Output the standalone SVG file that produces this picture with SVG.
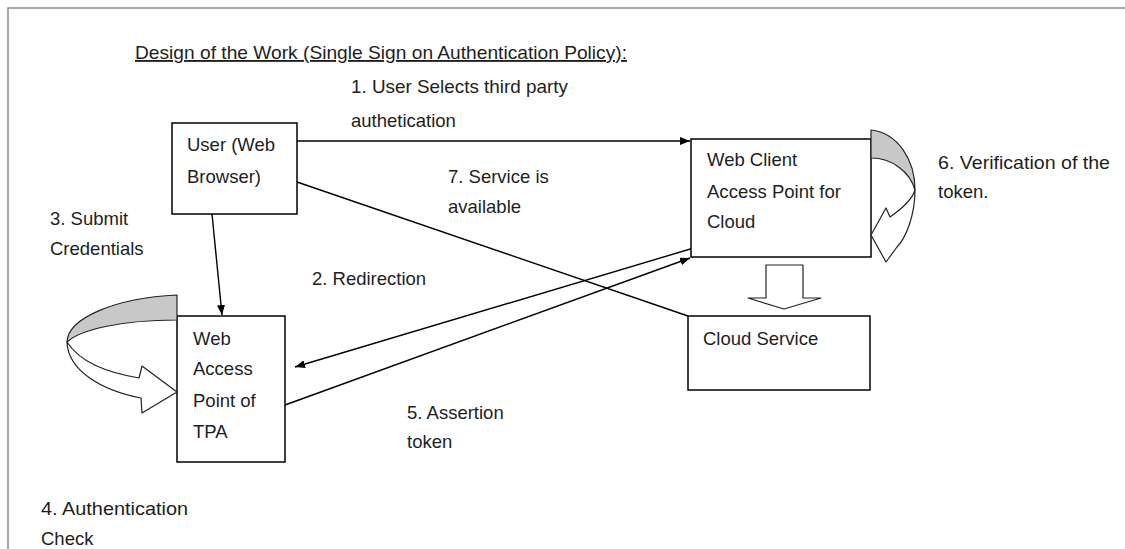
<svg xmlns="http://www.w3.org/2000/svg" width="1125" height="549" viewBox="0 0 1125 549">
<style>
text{font-family:"Liberation Sans",Arial,sans-serif;font-size:18.5px;fill:#1e1e1e}
.box{fill:#fff;stroke:#000;stroke-width:1.5}
.ln{fill:none;stroke:#000;stroke-width:1.4}
.blk{fill:#fff;stroke:#222;stroke-width:1.2;stroke-linejoin:round}
.grey{fill:#c8c8c8;stroke:#222;stroke-width:1.2;stroke-linejoin:round}
</style>
<defs>
<marker id="ah" viewBox="0 0 10 8" refX="10" refY="4" markerWidth="10" markerHeight="8" markerUnits="userSpaceOnUse" orient="auto">
<path d="M0,0 L10,4 L0,8 Z" fill="#000"/>
</marker>
</defs>
<rect width="1125" height="549" fill="#fff"/>
<path d="M8,549 L8,8 L1125,8" fill="none" stroke="#8a8a8a" stroke-width="1.5"/>
<text x="135" y="59" textLength="492" lengthAdjust="spacingAndGlyphs" text-decoration="underline">Design of the Work (Single Sign on Authentication Policy):</text>
<g id="connectors">
<line class="ln" x1="297" y1="141" x2="690" y2="141" marker-end="url(#ah)"/>
<line class="ln" x1="212" y1="214" x2="222" y2="315" marker-end="url(#ah)"/>
<line class="ln" x1="697" y1="247" x2="295" y2="367" marker-end="url(#ah)"/>
<line class="ln" x1="285" y1="405" x2="690" y2="258" marker-end="url(#ah)"/>
<line class="ln" x1="297" y1="182" x2="688" y2="316"/>
<path class="blk" d="M766,265 L803,265 L803,298 L821,298 L784,309 L748,298 L766,298 Z"/>
</g>
<g id="labels">
<text x="351" y="93" textLength="217" lengthAdjust="spacingAndGlyphs">1. User Selects third party</text>
<text x="351" y="127">authetication</text>
<text x="448" y="183">7. Service is</text>
<text x="448" y="213">available</text>
<text x="312" y="285">2. Redirection</text>
<text x="50" y="225">3. Submit</text>
<text x="50" y="255">Credentials</text>
<text x="407" y="419">5. Assertion</text>
<text x="407" y="448">token</text>
<text x="41" y="515" textLength="147" lengthAdjust="spacingAndGlyphs">4. Authentication</text>
<text x="41" y="545">Check</text>
<text x="938" y="169" textLength="172" lengthAdjust="spacingAndGlyphs">6. Verification of the</text>
<text x="938" y="198">token.</text>
</g>
<g id="user">
<rect class="box" x="172" y="123" width="125" height="91"/>
<text x="187" y="151">User (Web</text>
<text x="187" y="183">Browser)</text>
</g>
<g id="webclient">
<rect class="box" x="691" y="139" width="180" height="118"/>
<text x="707" y="166">Web Client</text>
<text x="707" y="198" textLength="134" lengthAdjust="spacingAndGlyphs">Access Point for</text>
<text x="707" y="228">Cloud</text>
</g>
<g id="cloudservice">
<rect class="box" x="688" y="316" width="182" height="74"/>
<text x="703" y="345">Cloud Service</text>
</g>
<g id="tpa">
<rect class="box" x="177" y="316" width="108" height="146"/>
<text x="193" y="345">Web</text>
<text x="193" y="375">Access</text>
<text x="193" y="407">Point of</text>
<text x="193" y="438">TPA</text>
</g>
<g id="loop-left">
<path class="grey" d="M177,295 C115,298 68,318 67,342 C80,330 120,320 177,320 Z"/>
<path class="blk" d="M67,342 C68,370 100,390 141,398 L142,413 L177,392 L142,366 L139,378 C105,372 80,362 67,342 Z"/>
</g>
<g id="loop-right">
<path class="grey" d="M871,130 C898,133 915,160 915,190 C910,172 892,158 871,158 Z"/>
<path class="blk" d="M915,190 C915,215 906,238 897,247 L886,262 L871,235 L886,208 L890,217 C903,208 912,200 915,190 Z"/>
</g>
</svg>
